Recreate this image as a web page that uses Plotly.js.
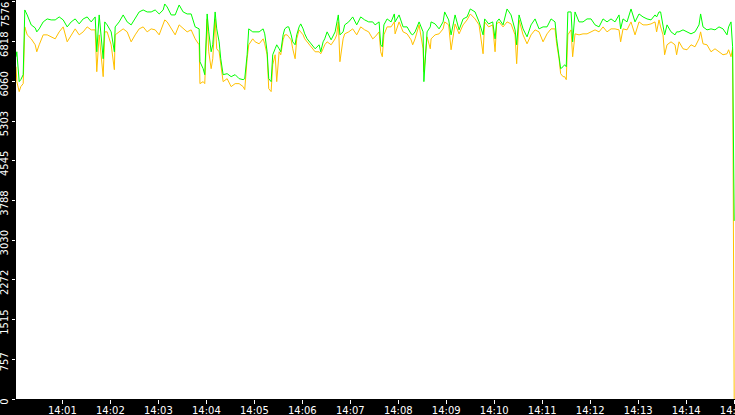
<!DOCTYPE html>
<html>
<head>
<meta charset="utf-8">
<script src="https://cdn.plot.ly/plotly-3.0.1.min.js"></script>
<style>
  html, body { margin: 0; padding: 0; background: #000; }
  #chart { width: 735px; height: 415px; }
</style>
</head>
<body>
<div id="chart"></div>
<script>
// seconds after 14:00:00
const secs = [2,3,6,8,11,12,13,16,21,26,28,31,36,41,46,51,56,61,66,71,76,81,86,91,96,101,103,106,111,113,116,121,125,126,131,136,141,146,151,156,161,166,171,176,181,186,188,191,196,201,206,211,216,221,226,231,232,236,238,241,243,246,248,251,253,256,258,261,266,271,276,281,286,288,291,293,298,301,306,311,313,316,318,321,323,326,328,331,333,336,338,341,343,346,348,351,353,356,358,361,363,366,371,376,381,383,386,388,391,396,401,403,405,407,411,413,418,423,428,433,438,443,448,451,456,458,460,462,466,471,475,476,481,486,491,496,498,501,506,511,512,516,520,521,526,531,536,538,543,546,551,556,561,566,570,576,581,586,588,593,598,601,603,606,611,616,621,626,628,631,636,641,646,651,656,661,666,671,676,678,681,683,686,688,690,692,696,698,701,706,711,716,721,726,731,736,741,746,751,756,758,761,766,771,776,781,786,791,796,801,803,806,808,811,813,816,821,826,828,831,836,841,846,851,856,858,861,866,871,876,881,886,891,893,896,898,900];

const green = [6531,6626,6056,6094,6189,7196,7424,7329,7139,7082,7006,7063,7196,7253,7234,7234,7291,7234,7101,7196,7253,7158,7253,7291,7196,7291,6626,7329,6493,7196,7139,7006,6626,7101,7196,7329,7196,7139,7253,7386,7424,7386,7386,7424,7348,7424,7538,7481,7329,7329,7519,7386,7348,7348,7101,7063,6436,6303,6189,7348,7006,6626,6759,7386,7063,6816,6493,6189,6208,6151,6189,6113,6094,6113,6569,7063,7006,7006,7006,7063,6968,6626,6113,6056,6569,6683,6759,6683,6626,6949,7063,7101,7101,6949,6816,6759,6949,7101,7158,7063,6968,6873,6778,6683,6759,6626,6816,6873,7006,6854,7006,7139,7329,6949,7006,7139,7196,7291,7139,7291,7234,7196,7196,7139,7196,6759,6721,7139,7253,7196,7348,7196,7329,7101,7101,6968,6949,7006,7196,7006,6056,7006,7101,7196,7158,7063,7196,7386,7234,6949,7329,7044,7253,7291,7443,7386,7196,6949,7253,7158,7196,6873,7196,7253,7139,7443,7329,7044,6759,7329,7063,6911,7139,7253,7063,7101,7101,7253,7196,6873,6569,6303,6341,6379,6341,7386,7386,6816,7386,7196,7196,7253,7253,7139,7101,7253,7196,7253,7196,7329,7063,7253,7196,7443,7196,7348,7291,7253,7234,7329,7291,7386,7386,7063,6949,7139,7006,6949,7006,7006,7044,7006,6968,7006,7139,7348,7101,7044,7063,7044,7101,7063,6949,7101,7196,6721,3399];

const orange = [6341,6056,5866,5961,6018,6721,7101,6949,6873,6759,6626,6759,6949,6949,6911,6873,7006,7101,6816,6949,7063,6949,7006,7101,7044,7044,6246,6949,6151,7006,7006,6759,6284,6949,7006,7063,7006,6816,6949,7063,7101,7006,7063,7044,6949,7139,7234,7196,7063,6949,7139,7063,7006,7044,6873,6759,6018,6056,6018,7253,6626,6303,6493,7253,6683,6626,6379,6056,6113,5961,6018,6018,5961,5904,6493,6759,6873,6816,6778,6873,6778,6569,5923,5866,6379,6569,6056,6626,6569,6854,6949,6949,6911,6854,6683,6493,6873,7044,7006,6949,6873,6816,6721,6626,6626,6588,6683,6759,6816,6759,6873,6949,7196,6436,6873,6968,7006,7063,6949,7101,7044,7006,6873,6911,7006,6626,6531,6949,7101,7101,7196,6968,7196,7006,6968,6854,6759,6873,7139,6683,6246,6911,6683,6873,6949,6968,7063,7196,7139,6664,7158,6968,7139,7234,7348,7253,7139,6588,7196,7101,7139,6626,7158,7196,7101,7196,7158,6949,6398,7234,6949,6778,6949,7044,7006,6816,6968,7063,7063,6778,6493,6208,6151,6151,6094,6949,7044,6531,6968,6949,6968,6968,7006,7044,7006,7101,7006,7063,7063,7044,6816,7063,7044,7196,6949,7196,7139,7139,7158,7196,7006,7234,7101,6949,6569,6759,6816,6759,6569,6816,6683,6664,6759,6721,6873,7006,6778,6759,6626,6683,6626,6569,6588,6664,6531,6683,0];

const yTickVals = [0, 757.6, 1515.2, 2272.8, 3030.4, 3788, 4545.6, 5303.2, 6060.8, 6818.4, 7576];
const yTickText = ["0", "757", "1515", "2272", "3030", "3788", "4545", "5303", "6060", "6818", ""];
const yTopLabel = "7576";

const base = Date.UTC(2000, 0, 1, 14, 0, 0);
const xs = secs.map(s => base + s * 1000);

const traces = [
  { x: xs, y: orange, type: "scatter", mode: "lines", line: { color: "#ffc000", width: 1 }, hoverinfo: "skip" },
  { x: xs, y: green, type: "scatter", mode: "lines", line: { color: "#00ff00", width: 1 }, hoverinfo: "skip" }
];

const tf = { family: "DejaVu Sans, sans-serif", color: "#fff", size: 10 };

const layout = {
  width: 735, height: 415,
  margin: { l: 16, r: 0, t: 0, b: 16 },
  paper_bgcolor: "#000", plot_bgcolor: "#fff",
  showlegend: false,
  font: tf,
  xaxis: {
    type: "date",
    range: [base + 2000, base + 901000],
    tick0: base, dtick: 60000, tickformat: "%H:%M",
    ticks: "outside", ticklen: 4, tickcolor: "#fff", tickwidth: 1,
    ticklabelstandoff: -2, ticklabeloverflow: "allow",
    showgrid: false, zeroline: false, showline: false,
    tickfont: tf
  },
  yaxis: {
    range: [0, 7614],
    tickmode: "array", tickvals: yTickVals, ticktext: yTickText,
    tickangle: -90, ticklabeloverflow: "allow", ticklabelshift: 4,
    ticks: "outside", ticklen: 3, tickcolor: "#fff", tickwidth: 1,
    showgrid: false, zeroline: false, showline: false,
    tickfont: tf
  },
  // top tick label kept inside the figure, as in the reference
  annotations: [{
    text: yTopLabel, xref: "paper", yref: "paper", x: 0, y: 1,
    xanchor: "right", yanchor: "top", xshift: -3,
    textangle: -90, showarrow: false, font: tf
  }]
};

Plotly.newPlot("chart", traces, layout, { displayModeBar: false, staticPlot: true });
</script>
</body>
</html>
